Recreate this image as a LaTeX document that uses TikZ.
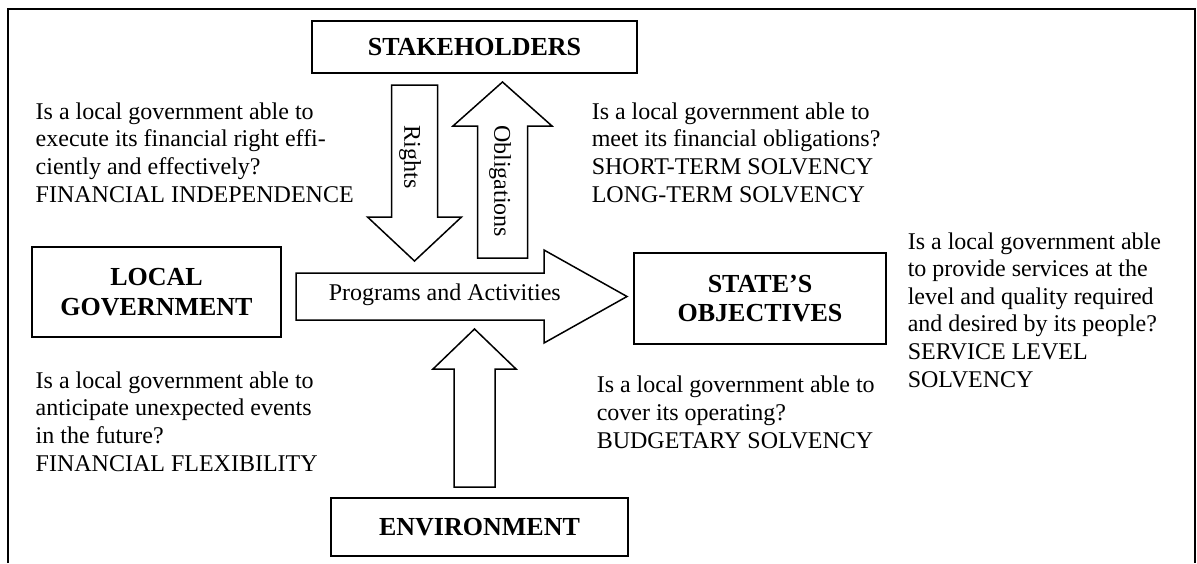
\documentclass[tikz,border=0pt]{standalone}
\usepackage{fontspec}
\setmainfont{Liberation Serif}
\begin{document}
\begin{tikzpicture}[x=0.5pt,y=-0.5pt,line width=0.75pt,
    box/.style={draw,fill=white,font=\fontsize{13}{14.9}\selectfont\bfseries,align=center,inner sep=0pt},
    blk/.style={draw,fill=white,line join=miter},
    qtext/.style={font=\fontsize{12}{13.8}\selectfont,align=left,anchor=base west,inner sep=0pt},
    lbl/.style={font=\fontsize{12}{13.8}\selectfont,inner sep=0pt}]
\useasboundingbox (0,0) rectangle (1197,563);
% frame, open at the bottom
\draw[line width=1.2pt] (8,563)--(8,9)--(1195,9)--(1195,563);
% boxes
\node[box,minimum width=162.5pt,minimum height=26pt] (stake) at (474.5,47) {STAKEHOLDERS};
\node[box,minimum width=124.5pt,minimum height=45pt] (locgov) at (156.5,292) {LOCAL\\GOVERNMENT};
\node[box,minimum width=126pt,minimum height=45.5pt] (stateobj) at (760,298.5) {STATE’S\\OBJECTIVES};
\node[box,minimum width=148.5pt,minimum height=29pt] (env) at (479.5,527) {ENVIRONMENT};
% block arrows
\draw[blk] (391.5,85)--(437.5,85)--(437.5,217)--(461.5,217)--(414.5,261)--(367.5,217)--(391.5,217)--cycle;
\draw[blk] (477.5,258)--(527.5,258)--(527.5,126)--(552,126)--(502.5,82)--(453,126)--(477.5,126)--cycle;
\draw[blk] (296,273)--(544,273)--(544,250)--(627,296.5)--(544,343)--(544,320)--(296,320)--cycle;
\draw[blk] (454,487)--(495,487)--(495,369)--(516,369)--(474.5,329)--(433,369)--(454,369)--cycle;
\node[lbl,rotate=-90] (rights) at (410,157) {Rights};
\node[lbl,rotate=-90] (oblig) at (500,181) {Obligations};
\node[lbl,anchor=base west] (progs) at (328,300) {Programs and Activities};
% questions (placed at the baseline of their last line)
\node[qtext] (qindep) at (35,202) {Is a local government able to\\execute its financial right effi-\\ciently and effectively?\\FINANCIAL INDEPENDENCE};
\node[qtext] (qsolv) at (591,202) {Is a local government able to\\meet its financial obligations?\\SHORT-TERM SOLVENCY\\LONG-TERM SOLVENCY};
\node[qtext] (qservice) at (907,387) {Is a local government able\\to provide services at the\\level and quality required\\and desired by its people?\\SERVICE LEVEL\\SOLVENCY};
\node[qtext] (qflex) at (35,471) {Is a local government able to\\anticipate unexpected events\\in the future?\\FINANCIAL FLEXIBILITY};
\node[qtext] (qbudget) at (596,448) {Is a local government able to\\cover its operating?\\BUDGETARY SOLVENCY};
\end{tikzpicture}
\end{document}
